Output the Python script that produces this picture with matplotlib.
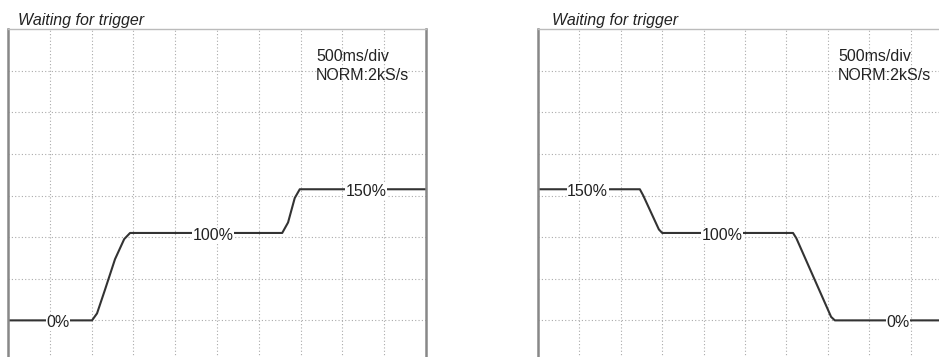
import numpy as np
import matplotlib.pyplot as plt

plt.rcParams['font.family'] = ['Liberation Sans', 'DejaVu Sans']

# left scope: step up 0% -> 100% -> 150%
t_up = [0.0, 1.005, 1.065, 1.16, 1.28, 1.39, 1.46, 3.28, 3.35, 3.43, 3.49, 5.0]
pct_up = [0, 0, 8, 35, 70, 93, 100, 100, 112, 140, 150, 150]
lbl_up = ['0%', '100%', '150%']
lbl_up_t = [0.6, 2.45, 4.28]
lbl_up_pct = [0, 100, 150]

# right scope: step down 150% -> 100% -> 0%
t_dn = [0.0, 1.23, 1.27, 1.46, 1.5, 3.08, 3.12, 3.54, 3.585, 5.0]
pct_dn = [150, 150, 143, 104, 100, 100, 94, 4, 0, 0]
lbl_dn = ['150%', '100%', '0%']
lbl_dn_t = [0.6, 2.22, 4.35]
lbl_dn_pct = [150, 100, 0]

W, H = 939, 357
div_pct = 100 / 2.1   # one vertical division in percent
fs = 11.5

fig = plt.figure(figsize=(W / 100, H / 100), dpi=100)


def scope(x0, width, t, pct, lbls, lt, lp):
    ax = fig.add_axes([x0 / W, -5 / H, width / W, 333 / H])
    ax.set_xlim(0, 5)
    ax.set_ylim(-div_pct, 7 * div_pct)
    ax.set_xticks(np.arange(1, 10) * 0.5)
    ax.set_yticks(np.arange(0, 7) * div_pct)
    ax.grid(True, color='#aaaaaa', lw=0.8, linestyle=(0, (1, 2)))
    ax.tick_params(length=0, labelbottom=False, labelleft=False)
    for s in ['left', 'right']:
        ax.spines[s].set_color('#888888')
        ax.spines[s].set_linewidth(1.8)
    ax.spines['top'].set_color('#bbbbbb')
    ax.spines['top'].set_linewidth(1.0)
    ax.plot(t, pct, color='#333333', lw=1.5)
    for s, x, y in zip(lbls, lt, lp):
        ax.text(x, y - 3, s, fontsize=fs, ha='center', va='center', color='#222222',
                bbox=dict(facecolor='white', edgecolor='none', pad=0.3))
    return ax


axl = scope(8, 418, t_up, pct_up, lbl_up, lbl_up_t, lbl_up_pct)
axr = scope(538, 414, t_dn, pct_dn, lbl_dn, lbl_dn_t, lbl_dn_pct)

for ax, xf in [(axl, 0.737), (axr, 0.725)]:
    ax.text(xf, 0.916, '500ms/div', transform=ax.transAxes, fontsize=fs,
            va='center', ha='left', color='#222222')
    ax.text(xf, 0.859, 'NORM:2kS/s', transform=ax.transAxes, fontsize=fs,
            va='center', ha='left', color='#222222')

for xp in [18, 552]:
    fig.text(xp / W, (H - 21) / H, 'Waiting for trigger', fontsize=fs,
             style='italic', va='center', ha='left', color='#222222')

fig.savefig('out.png', dpi=100)
